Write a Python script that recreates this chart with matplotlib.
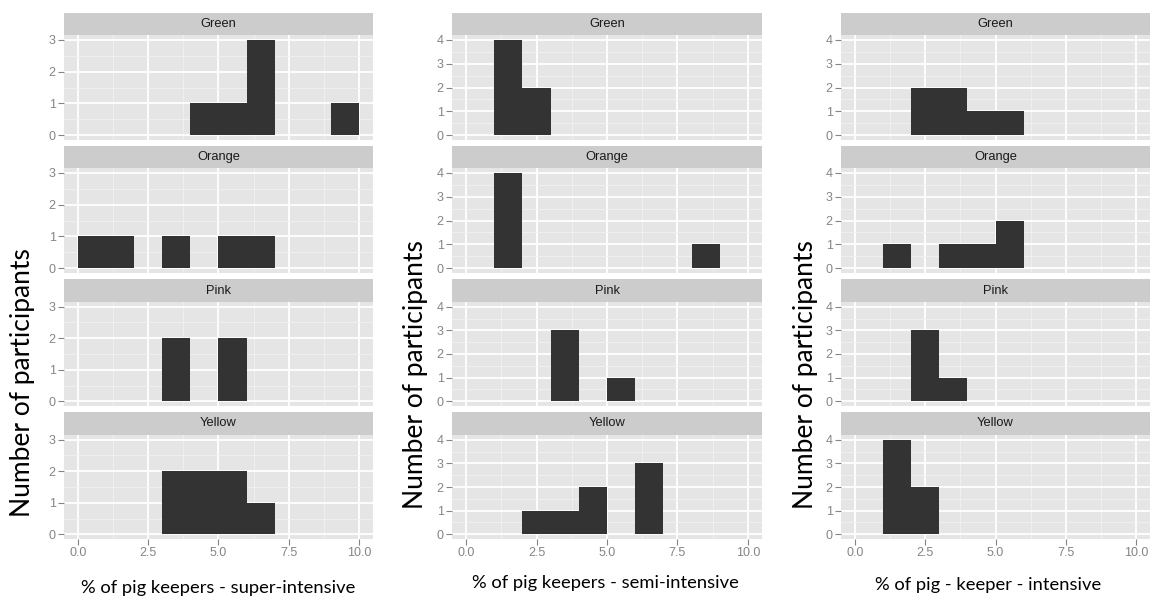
import matplotlib
matplotlib.use("Agg")
import matplotlib.pyplot as plt
from matplotlib.ticker import MultipleLocator

# bin left edges, bins are 1 unit wide
bin_left = list(range(10))
groups = ["Green", "Orange", "Pink", "Yellow"]

# counts per bin, one list per colour group
super_intensive = {
    "Green":  [0, 0, 0, 0, 1, 1, 3, 0, 0, 1],
    "Orange": [1, 1, 0, 1, 0, 1, 1, 0, 0, 0],
    "Pink":   [0, 0, 0, 2, 0, 2, 0, 0, 0, 0],
    "Yellow": [0, 0, 0, 2, 2, 2, 1, 0, 0, 0],
}
semi_intensive = {
    "Green":  [0, 4, 2, 0, 0, 0, 0, 0, 0, 0],
    "Orange": [0, 4, 0, 0, 0, 0, 0, 0, 1, 0],
    "Pink":   [0, 0, 0, 3, 0, 1, 0, 0, 0, 0],
    "Yellow": [0, 0, 1, 1, 2, 0, 3, 0, 0, 0],
}
intensive = {
    "Green":  [0, 0, 2, 2, 1, 1, 0, 0, 0, 0],
    "Orange": [0, 1, 0, 1, 1, 2, 0, 0, 0, 0],
    "Pink":   [0, 0, 3, 1, 0, 0, 0, 0, 0, 0],
    "Yellow": [0, 4, 2, 0, 0, 0, 0, 0, 0, 0],
}
x_labels = ["% of pig keepers - super-intensive",
            "% of pig keepers - semi-intensive",
            "% of pig - keeper - intensive"]
y_label = "Number of participants"
x_ticks = [0, 2.5, 5, 7.5, 10]
x_tick_labels = ["0.0", "2.5", "5.0", "7.5", "10.0"]

W, H = 1151, 599
fig = plt.figure(figsize=(W / 100, H / 100), dpi=100)


def px_axes(left, top, right, bottom):
    return fig.add_axes([left / W, 1 - bottom / H, (right - left) / W, (bottom - top) / H])


col_x = [(64, 373), (452, 762), (841, 1150)]
rows = [(13, 35, 140), (146, 168, 273), (279, 302, 406), (412, 435, 539)]
xlab_pos = [(218, 588), (605, 583), (988, 585)]
ylab_pos = [(23, 383), (416, 375), (806, 375)]

grey = "#858585"
for c, data in enumerate([super_intensive, semi_intensive, intensive]):
    left, right = col_x[c]
    ymax = max(max(v) for v in data.values())
    for r, g in enumerate(groups):
        s_top, p_top, p_bot = rows[r]
        strip = px_axes(left, s_top, right, p_top)
        strip.set_facecolor("#CCCCCC")
        strip.set_xticks([])
        strip.set_yticks([])
        for sp in strip.spines.values():
            sp.set_visible(False)
        strip.text(0.5, 0.5, g, ha="center", va="center", fontsize=9.3,
                   color="#1A1A1A", family="Liberation Sans", transform=strip.transAxes)

        ax = px_axes(left, p_top, right, p_bot)
        ax.set_facecolor("#E5E5E5")
        ax.bar(bin_left, data[g], width=1, align="edge", color="#333333", linewidth=0)
        ax.set_xlim(-0.5, 10.5)
        ax.set_ylim(-0.05 * ymax, 1.05 * ymax)
        ax.set_xticks(x_ticks)
        ax.xaxis.set_minor_locator(MultipleLocator(1.25))
        ax.set_yticks(range(ymax + 1))
        ax.yaxis.set_minor_locator(MultipleLocator(0.5))
        ax.grid(which="major", color="white", linewidth=1.3)
        ax.grid(which="minor", color="#F2F2F2", linewidth=0.6)
        ax.set_axisbelow(True)
        for sp in ax.spines.values():
            sp.set_visible(False)
        ax.tick_params(which="minor", length=0)
        ax.tick_params(which="major", length=4, width=0.8, color=grey,
                       labelcolor=grey, labelsize=9, pad=2)
        for lab in ax.get_yticklabels():
            lab.set_family("Liberation Sans")
        if r == len(groups) - 1:
            ax.set_xticklabels(x_tick_labels, family="Liberation Sans")
        else:
            ax.tick_params(axis="x", length=0, labelbottom=False)

    fig.text(xlab_pos[c][0] / W, 1 - xlab_pos[c][1] / H, x_labels[c],
             ha="center", va="center", fontsize=13.2, family="Lato", color="black")
    fig.text(ylab_pos[c][0] / W, 1 - ylab_pos[c][1] / H, y_label, rotation=90,
             ha="center", va="center", fontsize=19, family="Lato", color="black")

fig.savefig("out.png", dpi=100, facecolor="white")
